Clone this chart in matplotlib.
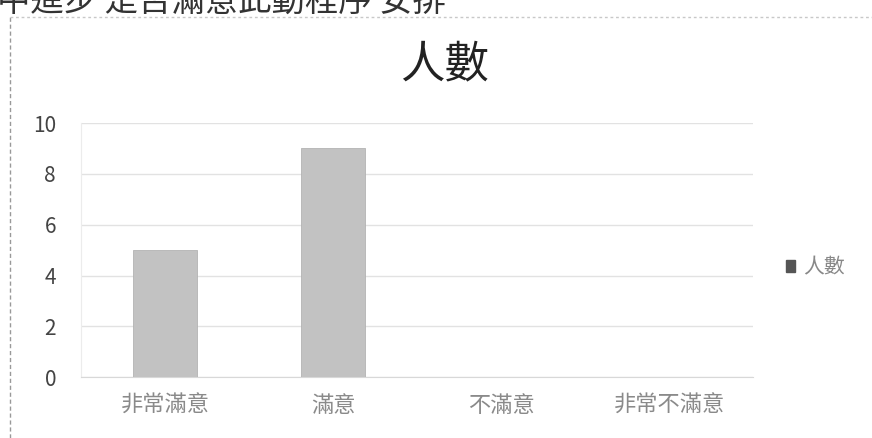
import numpy as np
import matplotlib.pyplot as plt
from matplotlib.lines import Line2D

plt.rcParams['font.family'] = ['Noto Sans CJK TC', 'DejaVu Sans']

categories = ['非常滿意', '滿意', '不滿意', '非常不滿意']
counts = [5, 9, 0, 0]
series_name = '人數'
yticks = [0, 2, 4, 6, 8, 10]
top_text = '中進步 是否滿意此動程序 安排'

fig = plt.figure(figsize=(8.72, 4.38), dpi=100)
ax = fig.add_axes([0.093, 0.139, 0.771, 0.58])

x = np.arange(len(categories))
ax.bar(x, counts, width=0.38, color='#c2c2c2', edgecolor='#b3b3b3', linewidth=0.6, zorder=3)

ax.set_xlim(-0.5, len(categories) - 0.5)
ax.set_ylim(0, 10)
ax.set_yticks(yticks)
ax.set_xticks(x)
ax.set_xticklabels(categories, fontsize=16, color='#8a8a8a')
ax.tick_params(axis='y', length=0, pad=18, labelsize=15, labelcolor='#444444')
ax.tick_params(axis='x', length=0, pad=12)
ax.grid(axis='y', color='#e2e2e2', linewidth=1, zorder=0)
for s in ['top', 'right']:
    ax.spines[s].set_visible(False)
ax.spines['left'].set_color('#ececec')
ax.spines['bottom'].set_color('#d8d8d8')

fig.text(0.51, 0.852, series_name, ha='center', va='center', fontsize=32,
         color='#222222', fontweight='light')

# legend on the right
fig.patches.append(plt.Rectangle((0.901, 0.378), 0.011, 0.028, transform=fig.transFigure,
                                 color='#555555', figure=fig))
fig.text(0.921, 0.39, series_name, ha='left', va='center', fontsize=15, color='#888888')

# cropped text line at very top
fig.text(-0.004, 0.994, top_text, ha='left', va='center', fontsize=24, color='#333333')

# chart border
fig.lines.append(Line2D([0.012, 0.012], [0.0, 0.962], transform=fig.transFigure,
                        color='#999999', linewidth=1, linestyle=(0, (3, 2))))
fig.lines.append(Line2D([0.012, 1.0], [0.962, 0.962], transform=fig.transFigure,
                        color='#c8c8c8', linewidth=1, linestyle=(0, (2, 2))))

fig.savefig('out.png', dpi=100)
